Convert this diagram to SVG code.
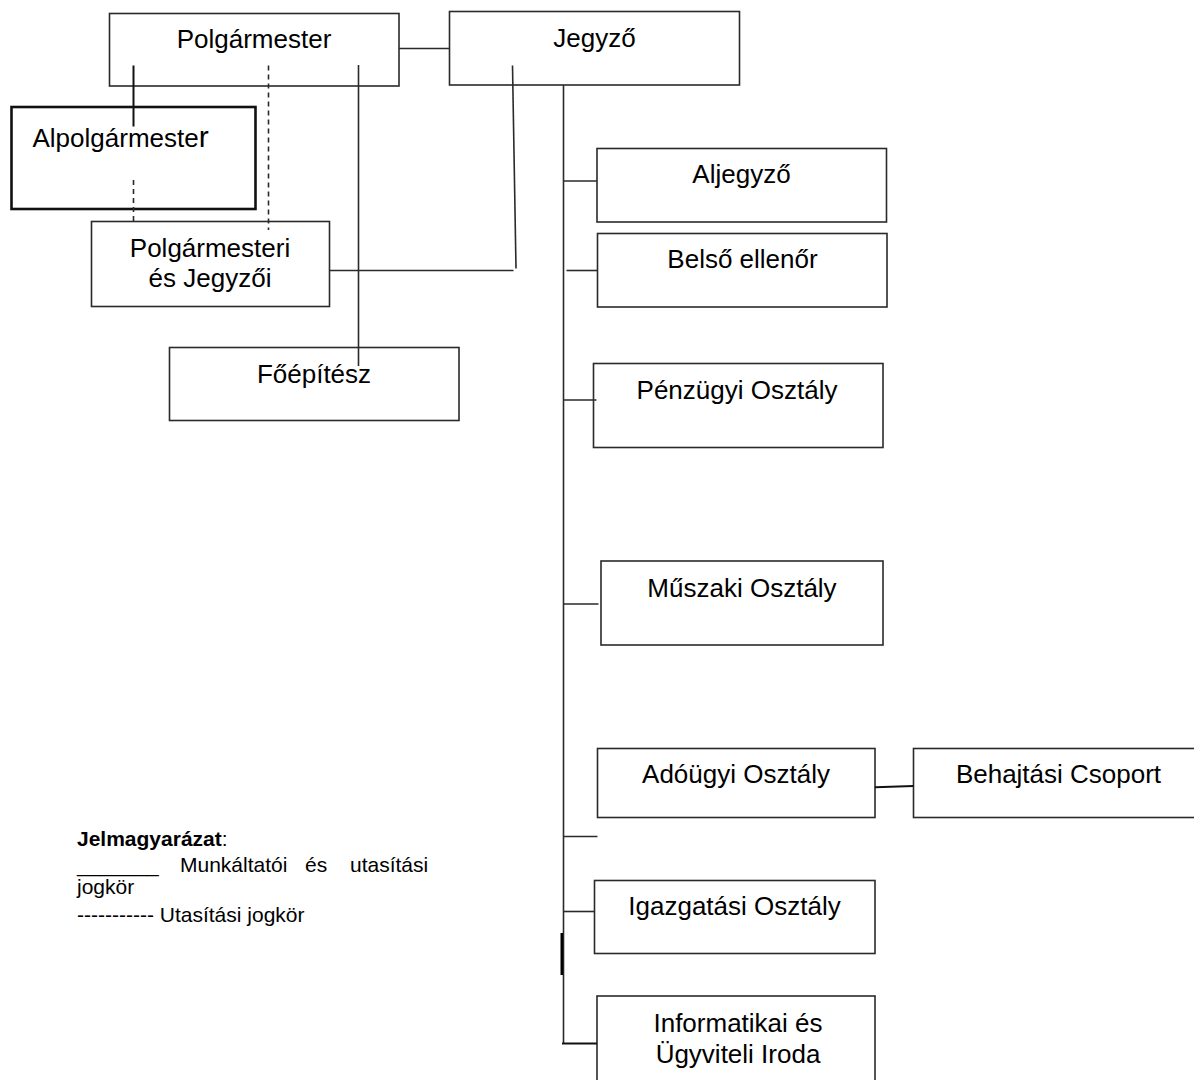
<svg xmlns="http://www.w3.org/2000/svg" width="1194" height="1080" viewBox="0 0 1194 1080">
<style>
.box{fill:#fff;stroke:#2a2a2a;stroke-width:1.6}
.thick{stroke:#111;stroke-width:2.6}
.t{font-family:"Liberation Sans",Arial,sans-serif;font-size:26px;fill:#000;text-anchor:middle}
.ln{fill:none;stroke:#2a2a2a;stroke-width:1.6}
.dash{stroke-dasharray:5 4}
.lg{font-family:"Liberation Sans",Arial,sans-serif;font-size:21px;fill:#000}
</style>
<rect width="1194" height="1080" fill="#fff"/>
<g id="nodes">
<g id="polgarmester"><rect class="box" x="109.5" y="13.5" width="289.5" height="72.5"/><text class="t" x="254" y="48">Polgármester</text></g>
<g id="jegyzo"><rect class="box" x="449.5" y="11.5" width="290" height="73.5"/><text class="t" x="594.5" y="47">Jegyző</text></g>
<g id="alpolgarmester"><rect class="box thick" x="11.5" y="107" width="244" height="102"/><text class="t" x="32.5" y="147" style="text-anchor:start">Alpolgármeste<tspan style="font-size:30px">r</tspan></text></g>
<g id="polgarmesteri-jegyzoi"><rect class="box" x="91.5" y="221.5" width="238" height="85"/><text class="t" x="210" y="257">Polgármesteri</text><text class="t" x="210" y="287">és Jegyzői</text></g>
<g id="foepitesz"><rect class="box" x="169.5" y="347.5" width="289.5" height="73"/><text class="t" x="314" y="383">Főépítész</text></g>
<g id="aljegyzo"><rect class="box" x="597" y="148.5" width="289.5" height="73.5"/><text class="t" x="741.5" y="183">Aljegyző</text></g>
<g id="belso-ellenor"><rect class="box" x="597.5" y="233.5" width="289.5" height="73.5"/><text class="t" x="742.5" y="268">Belső ellenőr</text></g>
<g id="penzugyi"><rect class="box" x="593.5" y="363.5" width="289.5" height="84"/><text class="t" x="737" y="399">Pénzügyi Osztály</text></g>
<g id="muszaki"><rect class="box" x="601" y="561" width="282" height="84"/><text class="t" x="742" y="597">Műszaki Osztály</text></g>
<g id="adougyi"><rect class="box" x="597.5" y="748.5" width="277.5" height="69"/><text class="t" x="736" y="783">Adóügyi Osztály</text></g>
<g id="behajtasi"><rect class="box" x="913.5" y="748.5" width="290" height="69"/><text class="t" x="1058.5" y="783">Behajtási Csoport</text></g>
<g id="igazgatasi"><rect class="box" x="594.5" y="880.5" width="280.5" height="73"/><text class="t" x="734.5" y="915">Igazgatási Osztály</text></g>
<g id="informatikai"><rect class="box" x="597" y="996" width="278" height="100"/><text class="t" x="738" y="1032">Informatikai és</text><text class="t" x="738" y="1063">Ügyviteli Iroda</text></g>
</g>
<g id="connectors">
<path class="ln" d="M399 48.5H449.5"/>
<path class="ln" d="M133.5 65.5V126.5" style="stroke:#111;stroke-width:2"/>
<path class="ln dash" d="M268.5 65.5V230"/>
<path class="ln dash" d="M133.5 180V221.5"/>
<path class="ln" d="M358.5 65V366"/>
<path class="ln" d="M329.5 270.5H513.5"/>
<path class="ln" d="M516 268.5L512.5 65.5"/>
<path class="ln" d="M563.5 85V1044"/>
<path class="ln" d="M561.8 933V975" style="stroke:#000;stroke-width:2.6"/>
<path class="ln" d="M563 181H597"/>
<path class="ln" d="M566.5 270.5H597.5"/>
<path class="ln" d="M563 400H596.5"/>
<path class="ln" d="M563 604H598.5"/>
<path class="ln" d="M563 836.5H597.5"/>
<path class="ln" d="M875 787.3L913.5 786" style="stroke:#111;stroke-width:2"/>
<path class="ln" d="M563 911.5H594.5"/>
<path class="ln" d="M562 1043.5H597" style="stroke:#111;stroke-width:2"/>
</g>
<g id="legend">
<text class="lg" x="77" y="846"><tspan font-weight="bold">Jelmagyarázat</tspan>:</text>
<text class="lg" y="872"><tspan x="77">_______</tspan><tspan x="180">Munkáltatói</tspan><tspan x="305">és</tspan><tspan x="350">utasítási</tspan></text>
<text class="lg" x="77" y="894">jogkör</text>
<text class="lg" x="77" y="922">----------- Utasítási jogkör</text>
</g>
</svg>
